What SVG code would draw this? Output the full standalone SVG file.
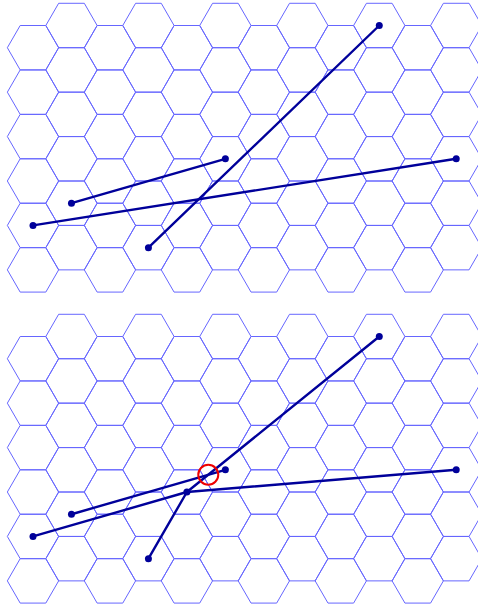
<svg xmlns="http://www.w3.org/2000/svg" xmlns:xlink="http://www.w3.org/1999/xlink" width="478" height="608" viewBox="0 0 478 608">
<style>
.hex{fill:none;stroke:#6666ff;stroke-width:1}
.edge{fill:none;stroke:#00009a;stroke-width:2.4;stroke-linecap:round;stroke-linejoin:round}
.dot{fill:#00009a}
.mark{fill:none;stroke:#ee0000;stroke-width:2}
</style>
<defs>
<polygon id="h" class="hex" points="-25.65,0 -12.825,-22.215 12.825,-22.215 25.65,0 12.825,22.215 -12.825,22.215"/>
<g id="col">
<use xlink:href="#h" y="0"/>
<use xlink:href="#h" y="44.43"/>
<use xlink:href="#h" y="88.86"/>
<use xlink:href="#h" y="133.29"/>
<use xlink:href="#h" y="177.72"/>
<use xlink:href="#h" y="222.15"/>
</g>
<g id="panel">
<use xlink:href="#col" x="33" y="47.715"/>
<use xlink:href="#col" x="71.475" y="25.5"/>
<use xlink:href="#col" x="109.95" y="47.715"/>
<use xlink:href="#col" x="148.425" y="25.5"/>
<use xlink:href="#col" x="186.9" y="47.715"/>
<use xlink:href="#col" x="225.375" y="25.5"/>
<use xlink:href="#col" x="263.85" y="47.715"/>
<use xlink:href="#col" x="302.325" y="25.5"/>
<use xlink:href="#col" x="340.8" y="47.715"/>
<use xlink:href="#col" x="379.275" y="25.5"/>
<use xlink:href="#col" x="417.75" y="47.715"/>
<use xlink:href="#col" x="456.225" y="25.5"/>
</g>
</defs>
<rect width="478" height="608" fill="#ffffff"/>
<g id="grid">
<use xlink:href="#panel"/>
<use xlink:href="#panel" y="311.01"/>
</g>
<g id="connectors">
<line class="edge" x1="71.475" y1="203.22" x2="225.375" y2="158.79"/>
<line class="edge" x1="33" y1="225.435" x2="456.225" y2="158.79"/>
<line class="edge" x1="148.425" y1="247.65" x2="379.275" y2="25.5"/>
<line class="edge" x1="71.475" y1="514.23" x2="225.375" y2="469.8"/>
<polyline class="edge" points="33,536.445 186.9,492.015 456.225,469.8"/>
<polyline class="edge" points="148.425,558.66 186.9,492.015 379.275,336.51"/>
</g>
<g id="t1"><circle class="dot" cx="379.275" cy="25.5" r="3.5"/></g>
<g id="t2"><circle class="dot" cx="225.375" cy="158.79" r="3.5"/></g>
<g id="t3"><circle class="dot" cx="71.475" cy="203.22" r="3.5"/></g>
<g id="t4"><circle class="dot" cx="456.225" cy="158.79" r="3.5"/></g>
<g id="t5"><circle class="dot" cx="33" cy="225.435" r="3.5"/></g>
<g id="t6"><circle class="dot" cx="148.425" cy="247.65" r="3.5"/></g>
<g id="b1"><circle class="dot" cx="379.275" cy="336.51" r="3.5"/></g>
<g id="b2"><circle class="dot" cx="225.375" cy="469.8" r="3.5"/></g>
<g id="b3"><circle class="dot" cx="71.475" cy="514.23" r="3.5"/></g>
<g id="b4"><circle class="dot" cx="456.225" cy="469.8" r="3.5"/></g>
<g id="b5"><circle class="dot" cx="33" cy="536.445" r="3.5"/></g>
<g id="b6"><circle class="dot" cx="148.425" cy="558.66" r="3.5"/></g>
<g id="b7"><circle class="dot" cx="186.9" cy="492.015" r="3.5"/></g>
<g id="crossing"><circle class="mark" cx="208.27" cy="474.74" r="10"/></g>
</svg>
